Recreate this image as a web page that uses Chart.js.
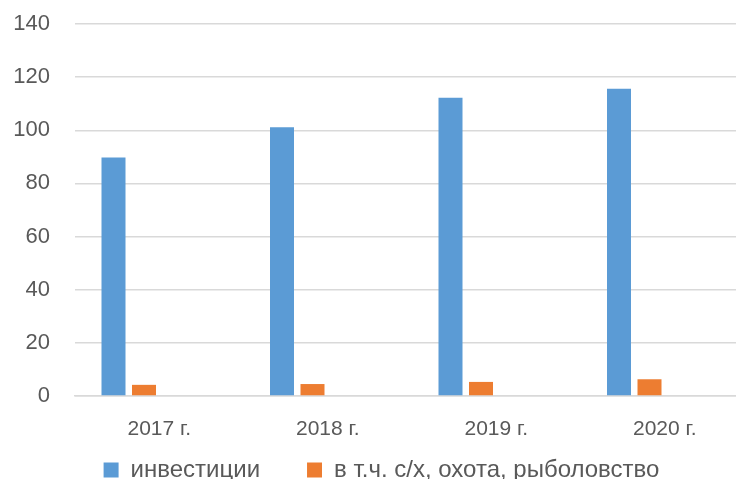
<!DOCTYPE html>
<html><head><meta charset="utf-8">
<script src="https://cdn.jsdelivr.net/npm/chart.js@4"></script>
<style>
html,body{margin:0;padding:0;background:#fff;overflow:hidden;}
#wrap{width:736px;height:479px;overflow:hidden;position:relative;}
#box{width:752px;height:479px;position:absolute;left:0;top:0;}
</style></head><body>
<div id="wrap"><div id="box"><canvas id="c"></canvas></div></div>
<script>
const categories = ['2017 г.', '2018 г.', '2019 г.', '2020 г.'];
const investments = [89.8, 101.1, 112.2, 115.6];
const agriculture = [4.2, 4.5, 5.3, 6.3];
const emptySeries = [null, null, null, null];
const seriesNames = ['инвестиции', 'в т.ч. с/х, охота, рыболовство'];
const yTicks = [0, 20, 40, 60, 80, 100, 120, 140];

const FONT = "'Liberation Sans', Arial, sans-serif";
const legendTweak = {
  id: 'legendTweak',
  beforeInit(chart) {
    const lg = chart.legend;
    const origFit = lg.fit;
    lg.fit = function () { origFit.call(this); this.height = 35; };
    const origDraw = lg.draw;
    lg.draw = function () {
      const t = this.top, l = this.left, r = this.right;
      this.top = t - 33;
      this.left = l + 7;
      this.right = r + 7;
      origDraw.call(this);
      this.top = t; this.left = l; this.right = r;
    };
  }
};
new Chart(document.getElementById('c'), {
  type: 'bar',
  plugins: [legendTweak],
  data: {
    labels: categories,
    datasets: [
      {label: seriesNames[0], data: investments, backgroundColor: '#5B9BD5'},
      {label: seriesNames[1], data: agriculture, backgroundColor: '#ED7D31'},
      {label: '', data: emptySeries, backgroundColor: '#A5A5A5'},
      {label: '', data: emptySeries, backgroundColor: '#FFC000'}
    ]
  },
  options: {
    responsive: true,
    maintainAspectRatio: false,
    animation: false,
    datasets: {bar: {categoryPercentage: 0.724, barPercentage: 0.787}},
    layout: {padding: {top: 24, right: 3, left: 0, bottom: 0}},
    plugins: {
      tooltip: {enabled: false},
      legend: {
        position: 'bottom',
        labels: {
          filter: (item) => item.text !== '',
          font: {family: FONT, size: 24},
          color: '#595959',
          boxWidth: 15, boxHeight: 15, padding: 47
        }
      }
    },
    scales: {
      x: {
        afterFit: (a) => { a.height = 48; },
        grid: {display: false, drawTicks: false},
        border: {display: true, color: '#d9d9d9', width: 1.5},
        ticks: {font: {family: FONT, size: 21}, color: '#595959', padding: 21}
      },
      y: {
        min: 0, max: 140,
        afterFit: (a) => { a.width = 75; a.paddingTop = 0; a.paddingBottom = 0; },
        afterBuildTicks: (a) => { a.ticks = yTicks.map(v => ({value: v})); },
        grid: {color: '#d9d9d9', lineWidth: 1.5, drawTicks: false},
        border: {display: false},
        ticks: {font: {family: FONT, size: 22}, color: '#595959', padding: 25}
      }
    }
  }
});
</script>
</body></html>
